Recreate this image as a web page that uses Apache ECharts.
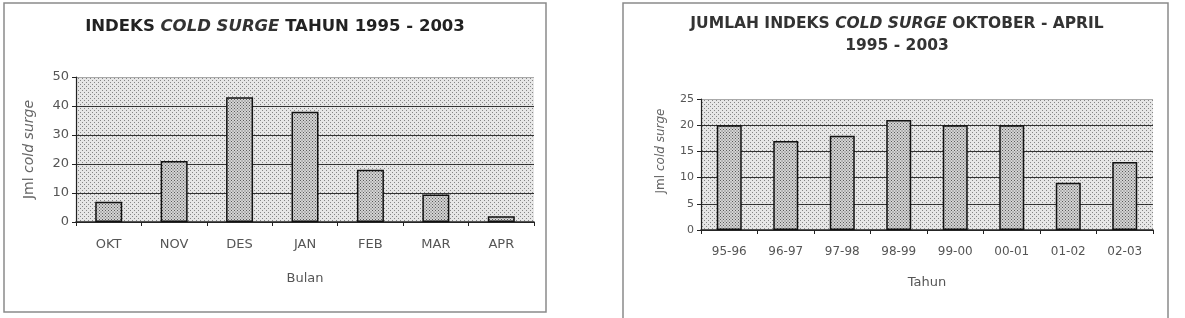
<!DOCTYPE html>
<html><head><meta charset="utf-8">
<script src="https://cdn.jsdelivr.net/npm/echarts@6/dist/echarts.min.js"></script>
<style>html,body{margin:0;padding:0;background:#fff}#c{width:1185px;height:318px}</style>
</head><body><div id="c"></div>
<script>
const monthCats = ['OKT','NOV','DES','JAN','FEB','MAR','APR'];
const monthVals = [7, 21, 43, 38, 18, 9.5, 2];
const yearCats = ['95-96','96-97','97-98','98-99','99-00','00-01','01-02','02-03'];
const yearVals = [20, 17, 18, 21, 20, 20, 9, 13];
const leftTicks = [0, 10, 20, 30, 40, 50];
const rightTicks = [0, 5, 10, 15, 20, 25];

function pattern(bg, dot, step) {
  const c = document.createElement('canvas');
  c.width = step; c.height = step;
  const g = c.getContext('2d');
  g.fillStyle = bg; g.fillRect(0, 0, step, step);
  g.fillStyle = dot;
  g.fillRect(0, 0, 1, 1);
  g.fillRect(step / 2, step / 2, 1, 1);
  return { image: c, repeat: 'repeat' };
}
const plotBg = pattern('#e6e6e6', '#858585', 4);
const barFill = pattern('#d4d4d4', '#5a5a5a', 3);

const font = 'DejaVu Sans, Verdana, sans-serif';
const tfont = 'DejaVu Sans, Arial, sans-serif';
const chart = echarts.init(document.getElementById('c'));

function yAxis(idx, max, interval, ticks, nameGap, nameSize, labelSize, shift) {
  return {
    gridIndex: idx, type: 'value', min: 0, max: max, interval: interval,
    name: 'Jml {i|cold surge}', nameLocation: 'middle', nameGap: nameGap,
    nameTextStyle: { color: '#666', fontSize: nameSize, fontFamily: font, padding: [0, 0, 0, shift],
      rich: { i: { fontStyle: 'italic', color: '#666', fontSize: nameSize, fontFamily: font } } },
    axisLine: { show: true, lineStyle: { color: '#222', width: 1.2 } },
    axisTick: { show: true, length: 4, lineStyle: { color: '#222' } },
    axisLabel: { color: '#555', fontSize: labelSize, fontFamily: font, margin: 7,
      formatter: v => ticks.indexOf(v) >= 0 ? String(v) : '' },
    splitLine: { show: true, lineStyle: { color: ['#333', '#333', '#333', '#333', '#333', '#aaa'], width: 1.2, type: 'solid' } }
  };
}
function xAxis(idx, cats, name, nameGap, labelSize) {
  return {
    gridIndex: idx, type: 'category', data: cats,
    name: name, nameLocation: 'middle', nameGap: nameGap,
    nameTextStyle: { color: '#555', fontSize: 13, fontFamily: font },
    axisLine: { show: true, lineStyle: { color: '#222', width: 1.5 } },
    axisTick: { show: true, length: 4, alignWithLabel: false, lineStyle: { color: '#222' } },
    axisLabel: { color: '#555', fontSize: labelSize, fontFamily: font, margin: 16 },
    splitLine: { show: false }
  };
}

chart.setOption({
  animation: false,
  backgroundColor: '#fff',
  title: [
    { text: '{b|INDEKS }{i|COLD SURGE}{b| TAHUN 1995 - 2003}', left: 270, top: 13, textAlign: 'center',
      textStyle: { rich: {
        b: { fontSize: 16.5, fontWeight: 'bold', color: '#222', fontFamily: tfont },
        i: { fontSize: 16.5, fontStyle: 'italic', color: '#333', fontFamily: tfont } } } },
    { text: '{b|JUMLAH INDEKS }{i|COLD SURGE}{b| OKTOBER - APRIL}\n{b|1995 - 2003}', left: 892, top: 8, textAlign: 'center',
      textStyle: { lineHeight: 22, rich: {
        b: { fontSize: 15.5, fontWeight: 'bold', color: '#333', fontFamily: tfont, lineHeight: 22 },
        i: { fontSize: 15.5, fontStyle: 'italic', color: '#333', fontFamily: tfont, lineHeight: 22 } } } }
  ],
  grid: [
    { left: 76, right: 651, top: 77, bottom: 96, show: true, backgroundColor: plotBg, borderWidth: 0 },
    { left: 701, right: 32, top: 99, bottom: 88, show: true, backgroundColor: plotBg, borderWidth: 0 }
  ],
  xAxis: [ xAxis(0, monthCats, 'Bulan', 50, 13), xAxis(1, yearCats, 'Tahun', 46, 12) ],
  yAxis: [ yAxis(0, 50, 10, leftTicks, 40, 14, 13, 0), yAxis(1, 25, 5, rightTicks, 34, 12, 11, 27) ],
  series: [
    { type: 'bar', xAxisIndex: 0, yAxisIndex: 0, data: monthVals, barWidth: 27,
      itemStyle: { color: barFill, borderColor: '#111', borderWidth: 1.5 } },
    { type: 'bar', xAxisIndex: 1, yAxisIndex: 1, data: yearVals, barWidth: 25,
      itemStyle: { color: barFill, borderColor: '#111', borderWidth: 1.5 } }
  ],
  graphic: [
    { type: 'rect', shape: { x: 4, y: 3, width: 542, height: 309 }, style: { fill: null, stroke: '#8a8a8a', lineWidth: 1.5 }, silent: true },
    { type: 'rect', shape: { x: 623, y: 3, width: 545, height: 318 }, style: { fill: null, stroke: '#8a8a8a', lineWidth: 1.5 }, silent: true }
  ]
});
</script></body></html>
